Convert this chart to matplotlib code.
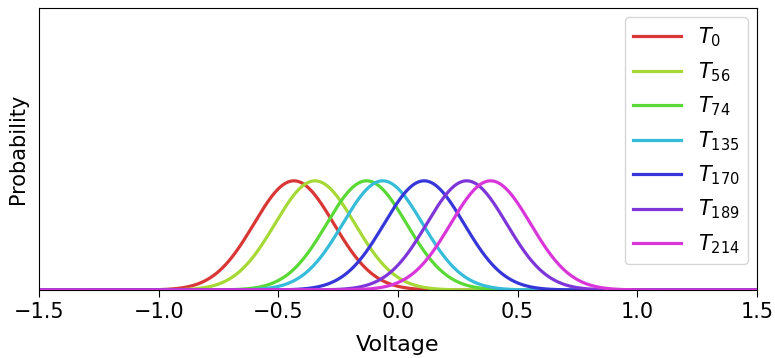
import numpy as np
import matplotlib
matplotlib.use("Agg")
import matplotlib.pyplot as plt

# Gaussian voltage distributions for each time step
labels = ['$T_{0}$', '$T_{56}$', '$T_{74}$', '$T_{135}$', '$T_{170}$', '$T_{189}$', '$T_{214}$']
means = [-0.435, -0.347, -0.131, -0.064, 0.109, 0.287, 0.387]
sigmas = [0.167, 0.167, 0.167, 0.167, 0.167, 0.167, 0.167]
colors = ['#d93636', '#a6d936', '#5ad936', '#36bcd9', '#3636d9', '#7f36d9', '#d936d9']

plt.rcParams['font.family'] = 'DejaVu Sans'
plt.rcParams['mathtext.fontset'] = 'dejavusans'

x = np.linspace(-1.5, 1.5, 1000)

fig = plt.figure(figsize=(7.75, 3.58), dpi=100)
ax = fig.add_axes([39 / 775, 1 - 290 / 358, (757 - 39) / 775, (290 - 8) / 358])

for mu, s, c, lab in zip(means, sigmas, colors, labels):
    y = np.exp(-0.5 * ((x - mu) / s) ** 2) / (s * np.sqrt(2 * np.pi))
    ax.plot(x, y, color=c, linewidth=2.3, label=lab)

ax.set_xlim(-1.5, 1.5)
ax.set_ylim(0, 6.17)
ax.set_yticks([])
ax.set_xticks([-1.5, -1.0, -0.5, 0.0, 0.5, 1.0, 1.5])
ax.tick_params(axis='x', labelsize=15, length=5, pad=4)
ax.set_xlabel('Voltage', fontsize=16, labelpad=9)
ax.set_ylabel('Probability', fontsize=15, labelpad=8)
ax.legend(loc='upper right', fontsize=15, handlelength=2.3, labelspacing=0.52,
          borderaxespad=0.45)

fig.savefig('out.png', dpi=100)
